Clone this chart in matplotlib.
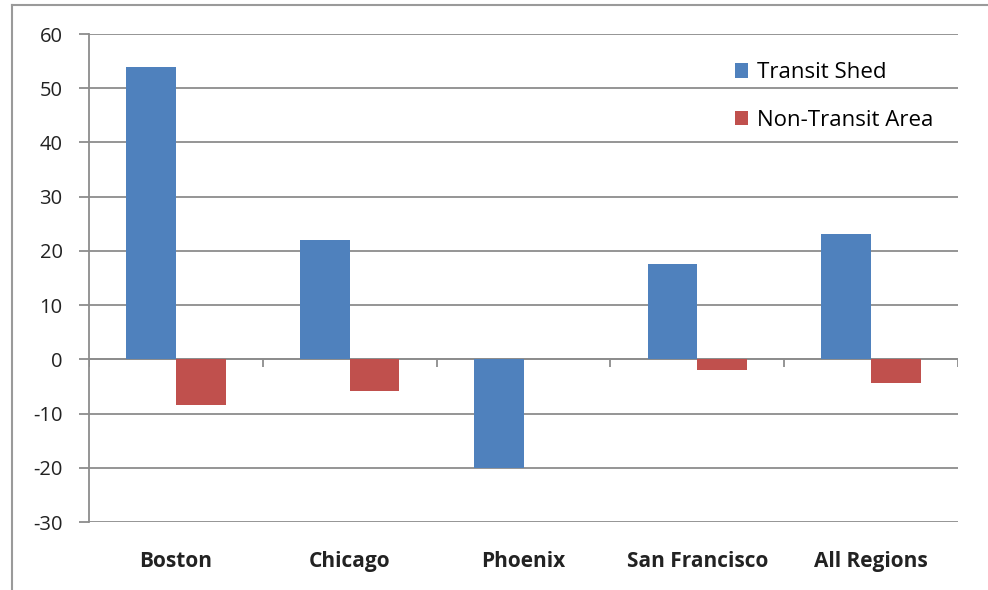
import numpy as np
import matplotlib
matplotlib.use("Agg")
import matplotlib.pyplot as plt
from matplotlib.lines import Line2D

regions = ["Boston", "Chicago", "Phoenix", "San Francisco", "All Regions"]
transit_shed = [54, 22, -20, 17.5, 23.2]
non_transit = [-8.5, -5.8, 0, -2.0, -4.3]
series_names = ["Transit Shed", "Non-Transit Area"]
yticks = list(range(-30, 61, 10))

BLUE = "#4F81BD"
RED = "#C0504D"
GRID = "#8C8C8C"

plt.rcParams["font.family"] = ["Open Sans", "DejaVu Sans"]

fig = plt.figure(figsize=(9.88, 5.9), dpi=100)
ax = fig.add_axes([89 / 988, 1 - 522 / 590, 869 / 988, 488 / 590])

x = np.arange(len(regions))
w = 1 / 3.5
ax.bar(x - w / 2, transit_shed, w, color=BLUE, label=series_names[0], zorder=3)
ax.bar(x + w / 2, non_transit, w, color=RED, label=series_names[1], zorder=3)

ax.set_xlim(-0.5, len(regions) - 0.5)
ax.set_ylim(yticks[0], yticks[-1])
ax.set_yticks(yticks)
ax.set_yticklabels([str(v) for v in yticks], fontsize=14.5, color="#222222")
ax.tick_params(axis="y", length=7, color=GRID, width=1.3, pad=12)
ax.set_xticks(x)
ax.set_xticklabels(regions, fontsize=15, fontweight="bold", color="#222222")
ax.tick_params(axis="x", length=0, pad=21)
ax.grid(True, axis="y", color=GRID, linewidth=1.3, zorder=0)

for side in ["top", "right", "bottom"]:
    ax.spines[side].set_visible(False)
ax.spines["left"].set_color(GRID)
ax.spines["left"].set_linewidth(1.3)

# category axis at zero with boundary ticks
ax.axhline(0, color=GRID, linewidth=1.3, zorder=2)
bounds = np.arange(len(regions) + 1) - 0.5
ax.vlines(bounds, -1.5, 0, color=GRID, linewidth=1.3, zorder=2)

ax.legend(loc="upper left", bbox_to_anchor=(0.743, 0.942), frameon=False,
          fontsize=16, handlelength=0.6, handleheight=0.6, handletextpad=0.4,
          labelspacing=1.2, borderpad=0, borderaxespad=0)

# chart frame (top and left edges visible)
fig.add_artist(Line2D([12 / 988, 12 / 988], [0, 1 - 5 / 590], color="#9A9A9A", linewidth=1.5))
fig.add_artist(Line2D([12 / 988, 1], [1 - 5 / 590, 1 - 5 / 590], color="#9A9A9A", linewidth=1.5))

fig.savefig("out.png", dpi=100)
